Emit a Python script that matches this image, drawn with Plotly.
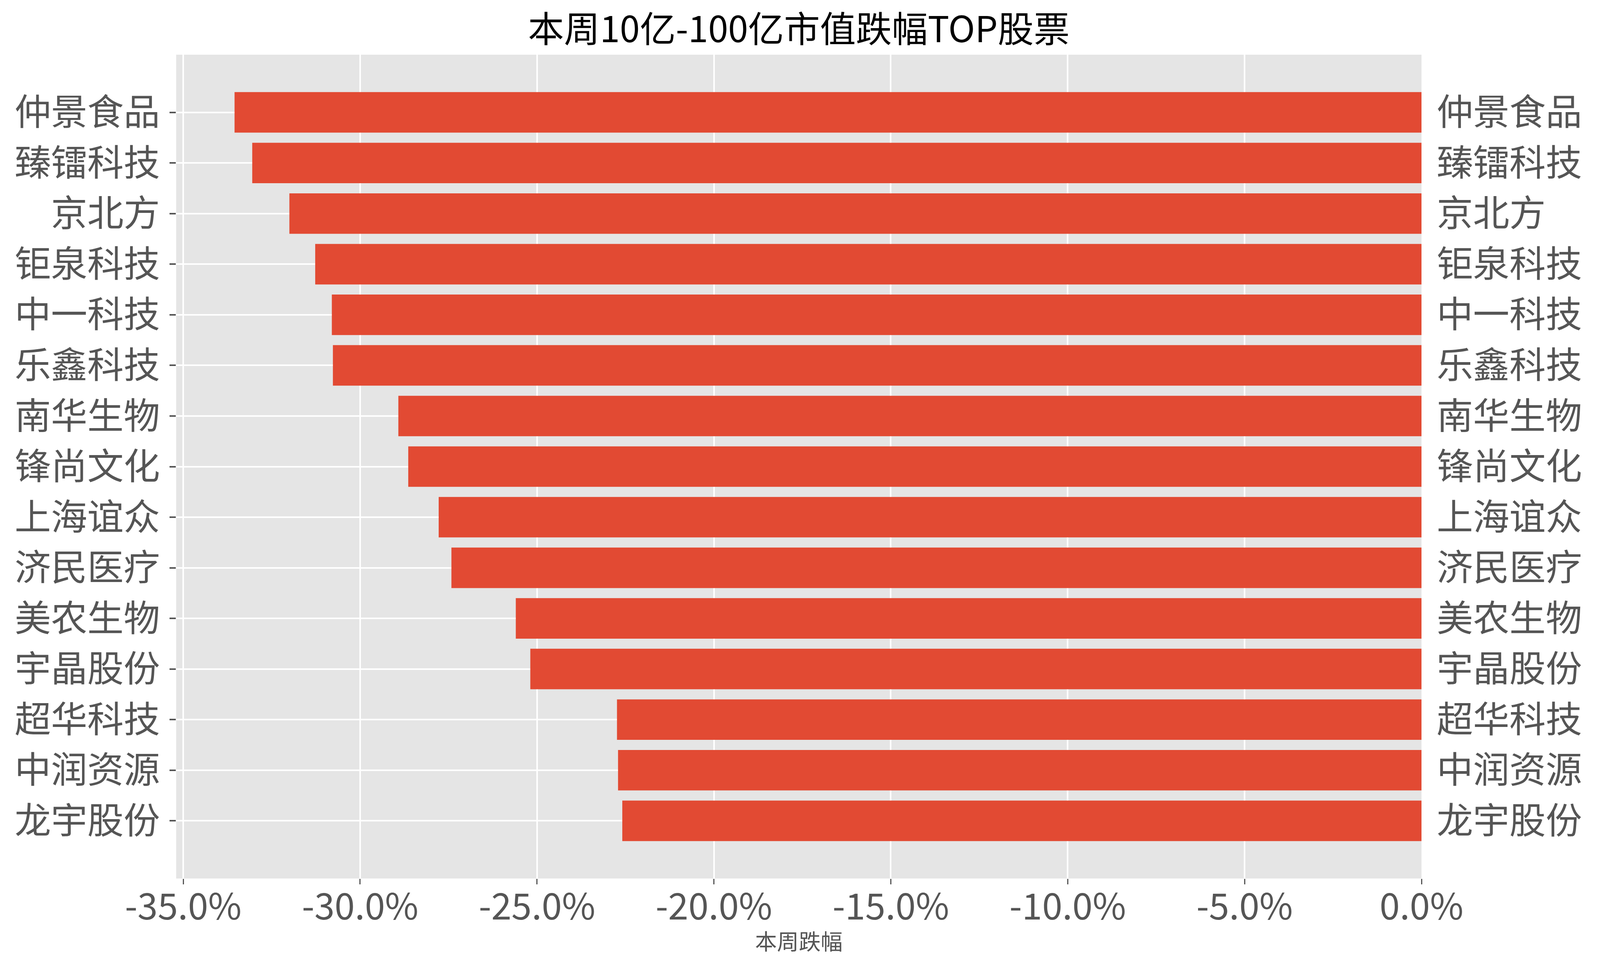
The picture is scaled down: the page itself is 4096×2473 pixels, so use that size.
import plotly.graph_objects as go

stocks = ["仲景食品", "臻镭科技", "京北方", "钜泉科技", "中一科技", "乐鑫科技", "南华生物",
          "锋尚文化", "上海谊众", "济民医疗", "美农生物", "宇晶股份", "超华科技", "中润资源", "龙宇股份"]
weekly_change = [-33.55, -33.05, -32.00, -31.27, -30.80, -30.77, -28.92,
                 -28.64, -27.78, -27.42, -25.60, -25.19, -22.74, -22.71, -22.59]
x_tick_values = [-35, -30, -25, -20, -15, -10, -5, 0]
x_tick_labels = ["-35.0%", "-30.0%", "-25.0%", "-20.0%", "-15.0%", "-10.0%", "-5.0%", "0.0%"]
title_text = "本周10亿-100亿市值跌幅TOP股票"
x_title = "本周跌幅"

FONT = "Noto Sans CJK SC"
W, H = 4096, 2473
M_L, M_R, M_T, M_B = 451, 457, 140, 224
plot_h = H - M_T - M_B

fig = go.Figure()
fig.add_trace(go.Bar(
    x=weekly_change, y=stocks, orientation="h", width=0.8,
    marker=dict(color="#E24A33", line=dict(width=0)),
    hoverinfo="x+y", showlegend=False,
))
fig.add_trace(go.Scatter(
    x=weekly_change, y=stocks, yaxis="y2", mode="markers",
    marker=dict(opacity=0, size=1), hoverinfo="skip", showlegend=False,
))

yrange = [len(stocks) - 1 + 1.14, -1.14]

fig.update_layout(
    width=W, height=H,
    margin=dict(l=M_L, r=M_R, t=M_T, b=M_B, pad=0),
    paper_bgcolor="white", plot_bgcolor="#E5E5E5",
    font=dict(family=FONT, color="#555555"),
    title=dict(text=title_text, x=0.5, xref="paper", xanchor="center",
               y=1 - 76 / H, yref="container", yanchor="middle",
               font=dict(family=FONT, size=92, color="black")),
    xaxis=dict(
        range=[-35.2, 0], tickmode="array", tickvals=x_tick_values, ticktext=x_tick_labels,
        showgrid=True, gridcolor="white", gridwidth=4, zeroline=False,
        ticks="outside", ticklen=14, tickwidth=3, tickcolor="#555555",
        ticklabelstandoff=-22,
        tickfont=dict(family=FONT, size=93, color="#555555"),
        showline=False,
    ),
    yaxis=dict(
        type="category", categoryorder="array", categoryarray=stocks, range=yrange,
        showgrid=True, gridcolor="white", gridwidth=4, zeroline=False,
        ticks="outside", ticklen=16, tickwidth=4, tickcolor="#555555",
        ticklabelstandoff=6,
        tickfont=dict(family=FONT, size=93, color="#555555"),
        showline=False,
    ),
    yaxis2=dict(
        type="category", categoryorder="array", categoryarray=stocks, range=yrange,
        overlaying="y", side="right", showgrid=False, zeroline=False,
        ticks="", ticklabelstandoff=38,
        tickfont=dict(family=FONT, size=93, color="#555555"),
        showline=False,
    ),
    annotations=[dict(
        text=x_title, xref="paper", yref="paper", x=0.5, y=-(2406 - (H - M_B)) / plot_h,
        xanchor="center", yanchor="middle", showarrow=False,
        font=dict(family=FONT, size=56, color="#555555"),
    )],
)

fig.write_html("out.html", config={"displayModeBar": False},
               post_script="document.body.style.margin='0';")
